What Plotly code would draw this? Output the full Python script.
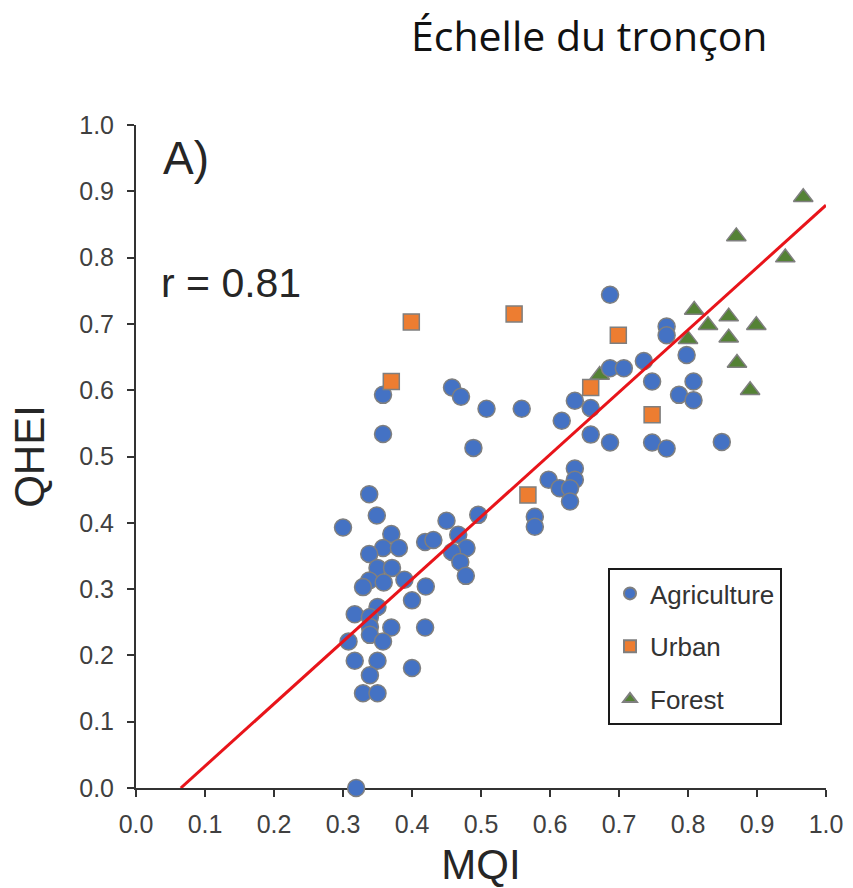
import plotly.graph_objects as go

# Land-use groups: MQI (x) vs QHEI (y)
agri_mqi = [0.338, 0.349, 0.300, 0.370, 0.358, 0.381, 0.338, 0.350, 0.371, 0.338,
            0.359, 0.329, 0.389, 0.400, 0.420, 0.350, 0.317, 0.339, 0.339, 0.370,
            0.339, 0.419, 0.308, 0.358, 0.317, 0.350, 0.400, 0.339, 0.329, 0.350,
            0.319, 0.419, 0.431, 0.450, 0.496, 0.467, 0.479, 0.458, 0.470, 0.478,
            0.358, 0.358, 0.687, 0.458, 0.471, 0.508, 0.559, 0.489, 0.636, 0.659,
            0.617, 0.659, 0.687, 0.748, 0.687, 0.707, 0.736, 0.748, 0.769, 0.769,
            0.769, 0.636, 0.636, 0.598, 0.614, 0.629, 0.629, 0.578, 0.578, 0.798,
            0.808, 0.787, 0.808, 0.849]
agri_qhei = [0.443, 0.411, 0.393, 0.383, 0.362, 0.362, 0.353, 0.332, 0.332, 0.313,
             0.310, 0.303, 0.314, 0.283, 0.304, 0.273, 0.262, 0.258, 0.243, 0.242,
             0.231, 0.242, 0.221, 0.221, 0.192, 0.192, 0.181, 0.170, 0.143, 0.143,
             0.000, 0.371, 0.374, 0.403, 0.412, 0.382, 0.362, 0.356, 0.341, 0.320,
             0.593, 0.534, 0.744, 0.604, 0.590, 0.572, 0.572, 0.513, 0.584, 0.573,
             0.554, 0.533, 0.521, 0.521, 0.633, 0.633, 0.644, 0.613, 0.696, 0.683,
             0.512, 0.482, 0.465, 0.465, 0.452, 0.452, 0.432, 0.409, 0.394, 0.653,
             0.613, 0.593, 0.585, 0.522]

urban_mqi = [0.370, 0.399, 0.548, 0.568, 0.659, 0.699, 0.748]
urban_qhei = [0.613, 0.703, 0.715, 0.442, 0.604, 0.683, 0.563]

forest_mqi = [0.967, 0.870, 0.941, 0.809, 0.829, 0.859, 0.899, 0.800, 0.859, 0.871, 0.890, 0.672]
forest_qhei = [0.891, 0.832, 0.800, 0.721, 0.698, 0.711, 0.698, 0.677, 0.679, 0.641, 0.600, 0.623]

# Linear fit
fit_slope = 0.94
fit_intercept = -0.061
fit_x = [-fit_intercept / fit_slope, 1.0]
fit_y = [fit_slope * x + fit_intercept for x in fit_x]

tick_vals = [0.0, 0.1, 0.2, 0.3, 0.4, 0.5, 0.6, 0.7, 0.8, 0.9, 1.0]
tick_text = ["0.0", "0.1", "0.2", "0.3", "0.4", "0.5", "0.6", "0.7", "0.8", "0.9", "1.0"]

SANS = "Arial"
OUTLINE = dict(color="#7f7f7f", width=1.5)

fig = go.Figure()
fig.add_trace(go.Scatter(
    x=forest_mqi, y=forest_qhei, mode="markers", name="Forest",
    legendrank=3, legendgroup="f",
    marker=dict(symbol="triangle-up", size=17, color="#548235", line=OUTLINE),
    cliponaxis=False,
))
fig.add_trace(go.Scatter(
    x=agri_mqi, y=agri_qhei, mode="markers", name="Agriculture",
    legendrank=1, legendgroup="a",
    marker=dict(symbol="circle", size=17, color="#4472C4", line=OUTLINE),
    cliponaxis=False,
))
fig.add_trace(go.Scatter(
    x=urban_mqi, y=urban_qhei, mode="markers", name="Urban",
    legendrank=2, legendgroup="u",
    marker=dict(symbol="square", size=16, color="#ED7D31", line=OUTLINE),
    cliponaxis=False,
))
fig.add_trace(go.Scatter(
    x=fit_x, y=fit_y, mode="lines", showlegend=False,
    line=dict(color="#E8141A", width=3),
))

axis_common = dict(
    range=[0, 1], tickvals=tick_vals, ticktext=tick_text,
    showgrid=False, zeroline=False, showline=True, linecolor="#333333", linewidth=2,
    ticks="outside", ticklen=7, tickwidth=2, tickcolor="#333333",
    tickfont=dict(family=SANS, size=25, color="#404040"),
    layer="below traces", automargin=False,
)

fig.update_layout(
    width=853, height=888,
    margin=dict(l=136, r=27, t=125, b=100, autoexpand=False),
    paper_bgcolor="white", plot_bgcolor="white",
    xaxis=dict(axis_common, ticklabelstandoff=6,
               title=dict(text="MQI", standoff=14,
                          font=dict(family=SANS, size=42, color="#262626"))),
    yaxis=dict(axis_common, ticklabelstandoff=8,
               title=dict(text="QHEI", standoff=22,
                          font=dict(family=SANS, size=42, color="#262626"))),
    legend=dict(
        x=(608 - 136) / 690, y=(788 - 568) / 663, xanchor="left", yanchor="top",
        bgcolor="white", bordercolor="#1a1a1a", borderwidth=2,
        font=dict(family=SANS, size=26, color="#333333"),
        itemsizing="constant", tracegroupgap=16,
    ),
    showlegend=True,
)

fig.add_annotation(text="Échelle du tronçon", xref="paper", yref="paper",
                   x=(589 - 136) / 690, y=(788 - 35) / 663, xanchor="center", yanchor="middle",
                   showarrow=False, font=dict(family="Open Sans", size=41, color="#111111"))
fig.add_annotation(text="A)", xref="paper", yref="paper",
                   x=(161 - 136) / 690, y=(788 - 158) / 663, xanchor="left", yanchor="middle",
                   showarrow=False, font=dict(family=SANS, size=46, color="#262626"))
fig.add_annotation(text="r = 0.81", xref="paper", yref="paper",
                   x=(159 - 136) / 690, y=(788 - 283) / 663, xanchor="left", yanchor="middle",
                   showarrow=False, font=dict(family=SANS, size=41, color="#262626"))

fig.write_html("out.html")
